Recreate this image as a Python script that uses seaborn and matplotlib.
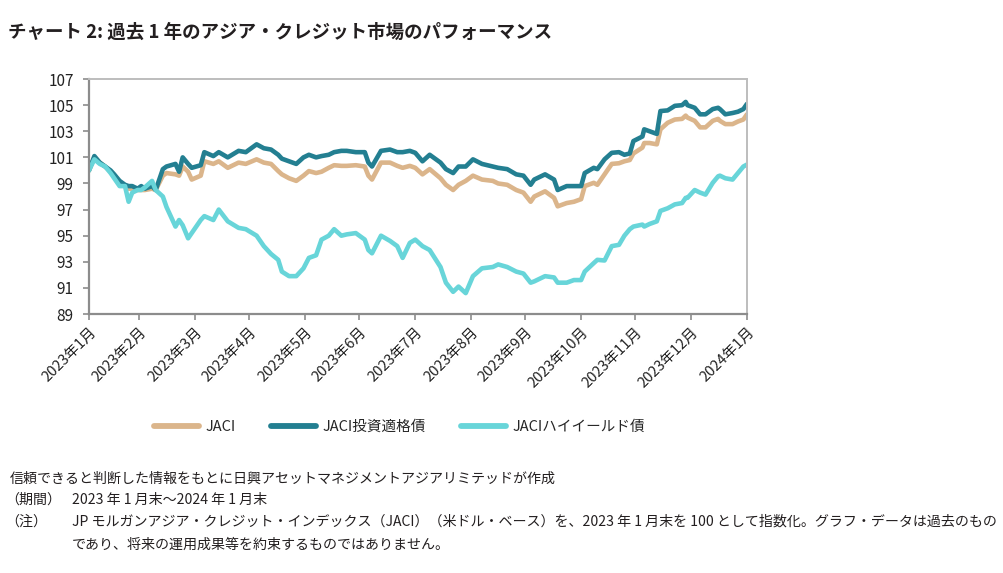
import pandas as pd
import matplotlib.pyplot as plt
import seaborn as sns

# data (index, end of Jan 2023 = 100)
dates = [
    "2023-01-31", "2023-02-03", "2023-02-06", "2023-02-09", "2023-02-12", "2023-02-14",
    "2023-02-17", "2023-02-20", "2023-02-22", "2023-02-24", "2023-02-27", "2023-03-01",
    "2023-03-03", "2023-03-07", "2023-03-09", "2023-03-13", "2023-03-15", "2023-03-20",
    "2023-03-22", "2023-03-24", "2023-03-27", "2023-03-29", "2023-04-03", "2023-04-05",
    "2023-04-10", "2023-04-13", "2023-04-18", "2023-04-24", "2023-04-28", "2023-05-04",
    "2023-05-08", "2023-05-12", "2023-05-16", "2023-05-18", "2023-05-22", "2023-05-26",
    "2023-05-30", "2023-06-02", "2023-06-06", "2023-06-09", "2023-06-13", "2023-06-16",
    "2023-06-20", "2023-06-23", "2023-06-28", "2023-07-03", "2023-07-05", "2023-07-07",
    "2023-07-12", "2023-07-17", "2023-07-21", "2023-07-24", "2023-07-28", "2023-07-31",
    "2023-08-04", "2023-08-08", "2023-08-14", "2023-08-17", "2023-08-21", "2023-08-24",
    "2023-08-28", "2023-09-01", "2023-09-06", "2023-09-12", "2023-09-15", "2023-09-20",
    "2023-09-25", "2023-09-29", "2023-10-03", "2023-10-05", "2023-10-11", "2023-10-16",
    "2023-10-18", "2023-10-23", "2023-10-27", "2023-10-31", "2023-11-02", "2023-11-07",
    "2023-11-09", "2023-11-13", "2023-11-15", "2023-11-17", "2023-11-21", "2023-11-24",
    "2023-11-27", "2023-11-29", "2023-12-04", "2023-12-05", "2023-12-08", "2023-12-12",
    "2023-12-14", "2023-12-18", "2023-12-22", "2023-12-26", "2023-12-28", "2023-12-29",
    "2024-01-02", "2024-01-05", "2024-01-08", "2024-01-12", "2024-01-15", "2024-01-16",
    "2024-01-19", "2024-01-23", "2024-01-26", "2024-01-29", "2024-01-31",
]

jaci = [
    100.0, 101.0, 100.6, 100.3, 99.9, 99.6, 99.0, 98.8, 98.6, 98.6, 98.5, 98.5,
    98.5, 98.6, 98.5, 99.6, 99.8, 99.7, 99.6, 100.3, 99.9, 99.3, 99.6, 100.7,
    100.5, 100.7, 100.2, 100.6, 100.5, 100.85, 100.6, 100.5, 99.95, 99.7, 99.4, 99.2,
    99.6, 99.95, 99.8, 99.9, 100.2, 100.4, 100.35, 100.35, 100.4, 100.3, 99.6, 99.3,
    100.6, 100.6, 100.35, 100.2, 100.35, 100.2, 99.7, 100.1, 99.4, 98.9, 98.5, 98.9,
    99.2, 99.6, 99.3, 99.2, 99.0, 98.9, 98.5, 98.3, 97.6, 98.0, 98.4, 97.9,
    97.25, 97.5, 97.6, 97.8, 98.8, 99.05, 98.9, 99.7, 100.1, 100.5, 100.55, 100.7,
    100.8, 101.3, 101.75, 102.1, 102.1, 102.0, 103.15, 103.65, 103.9, 103.95, 104.2, 104.05,
    103.8, 103.3, 103.3, 103.8, 103.95, 103.8, 103.55, 103.55, 103.75, 103.9, 104.3,
]

jaci_ig = [
    100.0, 101.1, 100.6, 100.3, 100.0, 99.7, 99.2, 98.9, 98.8, 98.8, 98.6, 98.8,
    98.6, 98.8, 98.5, 100.1, 100.3, 100.5, 99.9, 101.0, 100.5, 100.2, 100.4, 101.4,
    101.1, 101.4, 101.0, 101.5, 101.4, 102.0, 101.7, 101.6, 101.2, 100.9, 100.7, 100.5,
    101.0, 101.2, 101.0, 101.1, 101.2, 101.4, 101.5, 101.5, 101.4, 101.4, 100.6, 100.3,
    101.5, 101.6, 101.4, 101.4, 101.5, 101.35, 100.7, 101.2, 100.6, 100.1, 99.8, 100.3,
    100.3, 100.85, 100.5, 100.3, 100.2, 100.1, 99.7, 99.6, 98.9, 99.3, 99.7, 99.3,
    98.5, 98.8, 98.8, 98.8, 99.8, 100.2, 100.1, 100.85, 101.1, 101.35, 101.4, 101.2,
    101.3, 102.25, 102.6, 103.15, 103.0, 102.8, 104.55, 104.6, 104.95, 105.0, 105.25, 105.0,
    104.8, 104.3, 104.3, 104.7, 104.8, 104.7, 104.3, 104.4, 104.5, 104.7, 105.1,
]

jaci_hy = [
    100.0, 100.85, 100.5, 100.3, 99.8, 99.4, 98.8, 98.8, 97.6, 98.3, 98.5, 98.5,
    98.7, 99.2, 98.5, 98.0, 97.2, 95.7, 96.2, 95.8, 94.8, 95.2, 96.2, 96.5,
    96.2, 97.0, 96.1, 95.6, 95.5, 95.0, 94.2, 93.6, 93.15, 92.25, 91.9, 91.9,
    92.5, 93.3, 93.5, 94.7, 95.0, 95.5, 95.0, 95.1, 95.2, 94.7, 93.9, 93.65,
    95.0, 94.6, 94.2, 93.3, 94.45, 94.7, 94.2, 93.9, 92.6, 91.4, 90.7, 91.1,
    90.6, 91.9, 92.5, 92.6, 92.8, 92.6, 92.25, 92.1, 91.4, 91.5, 91.9, 91.8,
    91.4, 91.4, 91.6, 91.6, 92.25, 92.9, 93.15, 93.1, 93.65, 94.2, 94.3, 95.0,
    95.5, 95.7, 95.85, 95.7, 95.9, 96.1, 96.9, 97.1, 97.4, 97.5, 97.9, 97.9,
    98.5, 98.3, 98.15, 99.05, 99.55, 99.6, 99.4, 99.3, 99.8, 100.3, 100.45,
]

series_names = ["JACI", "JACI投資適格債", "JACIハイイールド債"]
colors = ["#DBB58B", "#237F91", "#68D5D9"]
month_labels = ["2023年1月", "2023年2月", "2023年3月", "2023年4月", "2023年5月", "2023年6月",
                "2023年7月", "2023年8月", "2023年9月", "2023年10月", "2023年11月", "2023年12月",
                "2024年1月"]
month_ticks = ["2023-01-31", "2023-02-28", "2023-03-31", "2023-04-30", "2023-05-31", "2023-06-30",
               "2023-07-31", "2023-08-31", "2023-09-30", "2023-10-31", "2023-11-30", "2023-12-31",
               "2024-01-31"]
y_ticks = [89, 91, 93, 95, 97, 99, 101, 103, 105, 107]

df = pd.DataFrame({"date": pd.to_datetime(dates), series_names[0]: jaci,
                   series_names[1]: jaci_ig, series_names[2]: jaci_hy})
long_df = df.melt(id_vars="date", var_name="series", value_name="value")

sns.set_style("white")
plt.rcParams["font.family"] = ["Noto Sans CJK JP", "DejaVu Sans"]

fig = plt.figure(figsize=(10.04, 5.73), dpi=100)
ax = fig.add_axes([0.0886, 0.452, 0.6554, 0.410])

sns.lineplot(data=long_df, x="date", y="value", hue="series", hue_order=series_names,
             palette=colors, linewidth=3.3, ax=ax, legend=False)

ax.set_xlim(pd.Timestamp("2023-01-31"), pd.Timestamp("2024-01-31"))
ax.set_ylim(89, 107)
ax.set_yticks(y_ticks)
ax.set_xticks(pd.to_datetime(month_ticks))
ax.set_xticklabels(month_labels, rotation=45, ha="right", rotation_mode="anchor")
ax.set_xlabel("")
ax.set_ylabel("")
ax.tick_params(axis="both", which="both", direction="out", length=4, width=1.2,
               color="#8C8C8C", labelcolor="#222222", bottom=True, left=True)
ax.tick_params(axis="y", labelsize=11, pad=7)
ax.tick_params(axis="x", labelsize=10.5, pad=4)

for side in ["left", "bottom"]:
    ax.spines[side].set_color("#8C8C8C")
    ax.spines[side].set_linewidth(1.6)
for side in ["top", "right"]:
    ax.spines[side].set_color("#BDBDBD")
    ax.spines[side].set_linewidth(1.4)

handles = [plt.Line2D([0], [0], color=c, lw=4.2, solid_capstyle="round") for c in colors]
fig.legend(handles, series_names, loc="center", bbox_to_anchor=(0.398, 0.255), ncol=3,
           frameon=False, fontsize=10.5, handlelength=3.1, handletextpad=0.45, columnspacing=2.4)

fig.text(0.008, 0.944, "チャート 2: 過去 1 年のアジア・クレジット市場のパフォーマンス",
         fontsize=13.3, fontweight="bold", color="#231F20", va="center")

note_color = "#231F20"
fs = 10.1
fig.text(0.010, 0.165, "信頼できると判断した情報をもとに日興アセットマネジメントアジアリミテッドが作成",
         fontsize=fs, color=note_color, va="center")
fig.text(0.005, 0.128, "（期間）", fontsize=fs, color=note_color, va="center")
fig.text(0.072, 0.128, "2023 年 1 月末～2024 年 1 月末", fontsize=fs, color=note_color, va="center")
fig.text(0.005, 0.089, "（注）", fontsize=fs, color=note_color, va="center")
fig.text(0.072, 0.089, "JP モルガンアジア・クレジット・インデックス（JACI）（米ドル・ベース）を、2023 年 1 月末を 100 として指数化。グラフ・データは過去のもの",
         fontsize=fs, color=note_color, va="center")
fig.text(0.072, 0.050, "であり、将来の運用成果等を約束するものではありません。",
         fontsize=fs, color=note_color, va="center")

plt.savefig("out.png", dpi=100)
